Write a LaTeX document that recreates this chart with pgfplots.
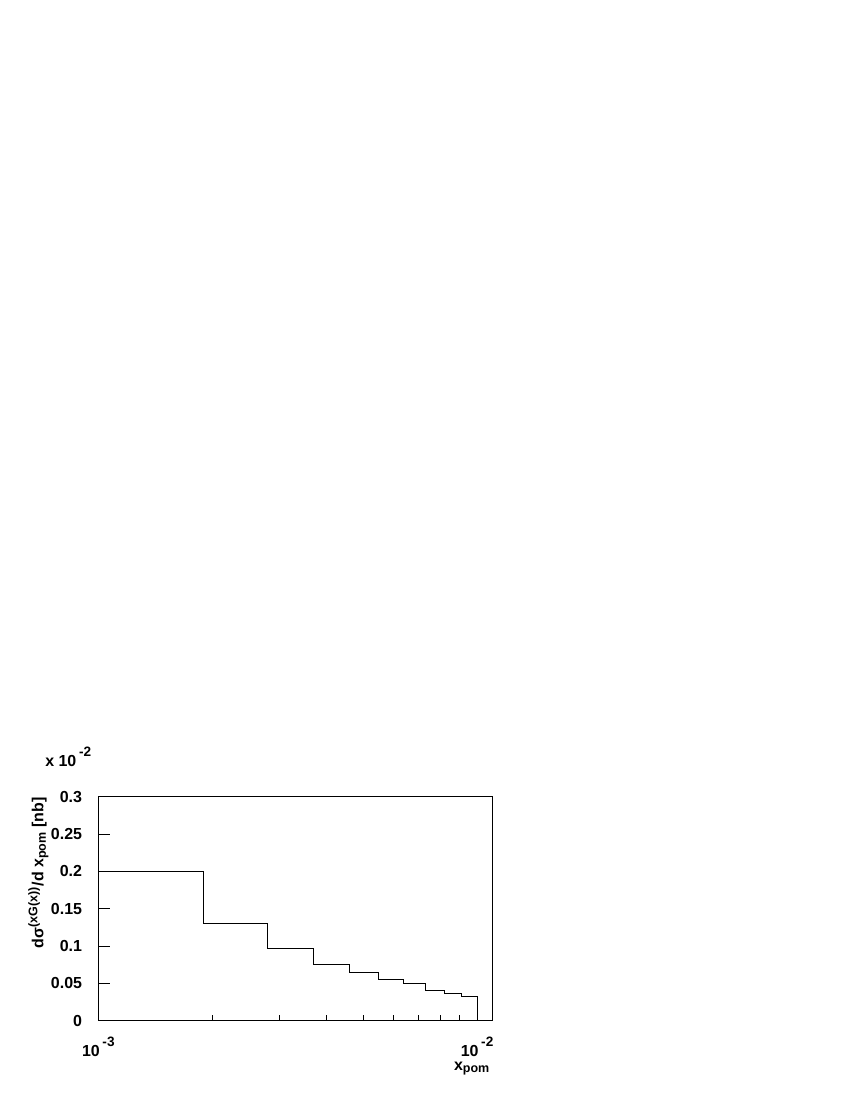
\documentclass[border=0pt]{standalone}
\usepackage{fontspec}
\setmainfont{Liberation Sans}
\usepackage{pgfplots}
\pgfplotsset{compat=1.18}
\newcommand{\lbl}{\fontsize{11.5}{13}\selectfont\bfseries}
\newcommand{\expo}[1]{\raisebox{7.5pt}{\fontsize{9.8}{10}\selectfont\bfseries #1}}
\begin{document}
\begin{tikzpicture}
% page frame (letter size, the plot sits in the lower left)
\path[use as bounding box] (-70.8pt,-57.1pt) rectangle ++(612pt,792pt);
\begin{axis}[
    name=ax,
    at={(0,0)}, anchor=south west,
    scale only axis,
    width=283.7pt, height=161.3pt,
    xmode=log,
    xmin=0.001, xmax=0.010975,
    ymin=0, ymax=0.3,
    xtick={0.001,0.01},
    xticklabels={{10\,\expo{-3}},{10\,\expo{-2}}},
    minor xtick={0.002,0.003,0.004,0.005,0.006,0.007,0.008,0.009},
    ytick={0,0.05,0.1,0.15,0.2,0.25,0.3},
    yticklabels={0,0.05,0.1,0.15,0.2,0.25,0.3},
    xtick pos=bottom, ytick pos=left,
    tick align=inside,
    major tick length=8.6pt,
    minor tick length=4.3pt,
    tick style={black, line width=0.5pt},
    axis line style={line width=0.75pt},
    ticklabel style={font=\lbl},
    yticklabel style={anchor=east, xshift=-8.2pt},
    xticklabel style={anchor=base, yshift=-26pt},
]
\addplot[const plot, black, line width=0.6pt] coordinates {
    (0.001,0.2)
    (0.0019,0.13)
    (0.0028,0.097)
    (0.0037,0.0756)
    (0.0046,0.0644)
    (0.0055,0.055)
    (0.0064,0.0496)
    (0.0073,0.0408)
    (0.0082,0.0367)
    (0.0091,0.0322)
    (0.01,0)
};
\end{axis}
\node[anchor=base west, inner sep=0pt, font=\lbl] at ([xshift=-38.4pt,yshift=182.7pt]ax.south west) {x 10\,\expo{-2}};
\node[anchor=base east, rotate=90, inner sep=0pt, font=\lbl] at ([xshift=-39.5pt,yshift=161.1pt]ax.south west)
    {dσ\textsuperscript{\fontsize{9}{9}\selectfont(xG(x))}/d x\textsubscript{\fontsize{9}{9}\selectfont pom} [nb]};
\node[anchor=base east, inner sep=0pt, font=\lbl] at ([xshift=-1.5pt,yshift=-35.5pt]ax.south east)
    {x\textsubscript{\fontsize{9}{9}\selectfont pom}};
\end{tikzpicture}
\end{document}
